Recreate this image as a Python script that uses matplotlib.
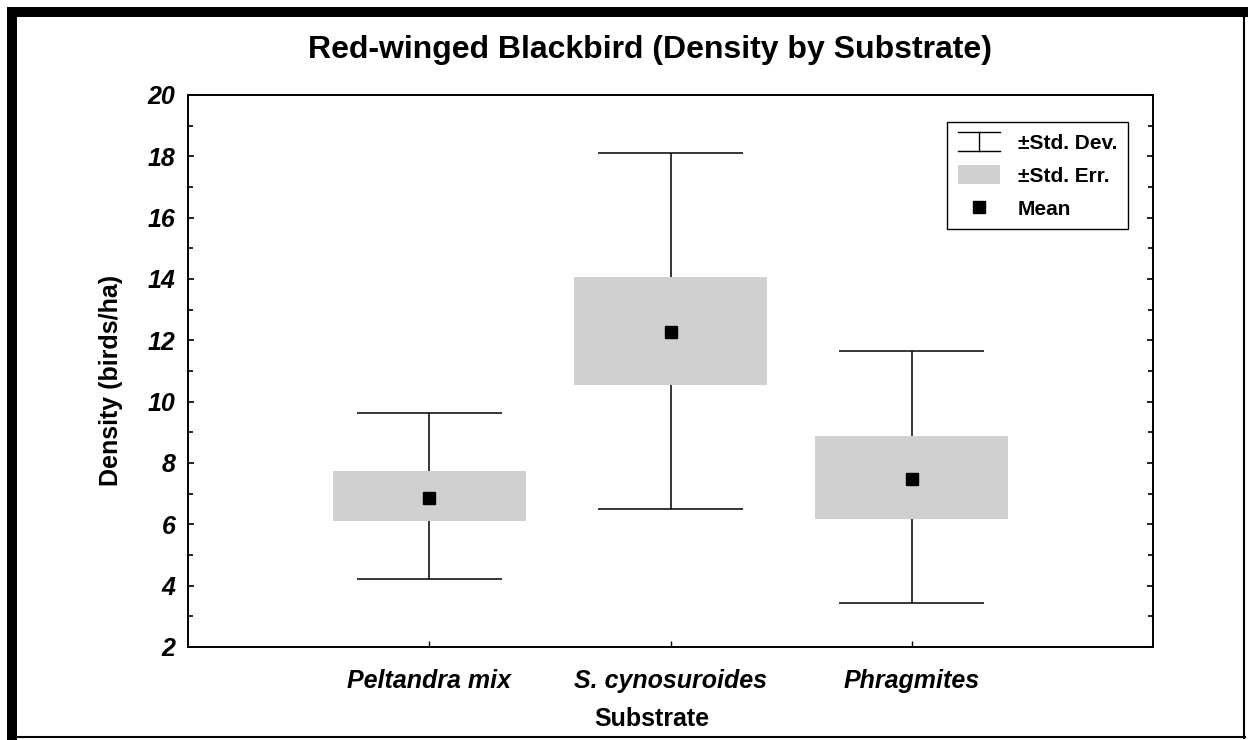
import numpy as np
import matplotlib
matplotlib.use("Agg")
import matplotlib.pyplot as plt
from matplotlib.patches import Rectangle
from matplotlib.lines import Line2D
from matplotlib.legend_handler import HandlerBase

# values
substrates = ["Peltandra mix", "S. cynosuroides", "Phragmites"]
means = np.array([6.87, 12.26, 7.47])
se_low = np.array([6.11, 10.54, 6.17])
se_high = np.array([7.74, 14.07, 8.88])
sd_low = np.array([4.22, 6.50, 3.42])
sd_high = np.array([9.63, 18.12, 11.66])
y_ticks = np.arange(2, 21, 2)

W, H = 1248, 740
BOX_GRAY = "#d0d0d0"


def fx(px):
    return px / W


def fy(py):
    return 1 - py / H


class IBeamHandler(HandlerBase):
    """Legend glyph for the std. dev. whiskers (an I-beam)."""

    def create_artists(self, legend, orig_handle, xdescent, ydescent,
                       width, height, fontsize, trans):
        x0 = -xdescent
        x1 = x0 + width
        xm = (x0 + x1) / 2
        y0 = -ydescent
        y1 = y0 + height
        parts = [Line2D([x0, x1], [y1, y1]),
                 Line2D([xm, xm], [y0, y1]),
                 Line2D([x0, x1], [y0, y0])]
        for p in parts:
            p.set_color("k")
            p.set_linewidth(1.0)
            p.set_transform(trans)
        return parts


plt.rcParams["font.family"] = ["Liberation Sans", "DejaVu Sans"]

fig = plt.figure(figsize=(W / 100, H / 100), dpi=100)
ax = fig.add_axes([fx(188), fy(647), (1153 - 188) / W, (647 - 95) / H])

x = np.arange(1, len(substrates) + 1)

# whiskers (std. dev.)
ax.vlines(x, sd_low, sd_high, color="k", lw=1.1, zorder=2)
ax.hlines(sd_low, x - 0.3, x + 0.3, color="k", lw=1.1, zorder=2)
ax.hlines(sd_high, x - 0.3, x + 0.3, color="k", lw=1.1, zorder=2)

# boxes (std. err.)
ax.bar(x, se_high - se_low, bottom=se_low, width=0.8,
       color=BOX_GRAY, edgecolor="none", zorder=3)

# means
ax.plot(x, means, linestyle="none", marker="s", color="k",
        markersize=9, zorder=4)

ax.set_xlim(0, 4)
ax.set_ylim(2, 20)
ax.set_yticks(y_ticks)
ax.set_yticks(np.arange(3, 20, 2), minor=True)
ax.set_xticks(x)
ax.set_xticklabels(substrates)

for s in ax.spines.values():
    s.set_linewidth(1.4)

ax.tick_params(axis="y", which="both", direction="in", right=True,
               width=1.2, labelsize=18, pad=9)
ax.tick_params(axis="y", which="major", length=4)
ax.tick_params(axis="y", which="minor", length=3.5)
ax.tick_params(axis="x", direction="in", length=4, width=1.0,
               labelsize=18, pad=16, top=False)
for lab in ax.get_xticklabels() + ax.get_yticklabels():
    lab.set_fontweight("bold")
    lab.set_fontstyle("italic")

# legend
sd_handle = Line2D([], [], color="k")
se_handle = Rectangle((0, 0), 1, 1, facecolor=BOX_GRAY, edgecolor="none")
mean_handle = Line2D([], [], marker="s", color="k", linestyle="none",
                     markersize=8.5)
leg = ax.legend([sd_handle, se_handle, mean_handle],
                ["±Std. Dev.", "±Std. Err.", "Mean"],
                loc="upper right", bbox_to_anchor=(0.974, 0.951),
                borderaxespad=0, fancybox=False, edgecolor="k",
                framealpha=1, handlelength=2.05, handleheight=1.0,
                handletextpad=0.85, borderpad=0.5, labelspacing=0.6,
                prop={"weight": "bold", "size": 15},
                handler_map={sd_handle: IBeamHandler()})
leg.get_frame().set_linewidth(1.0)

# titles
fig.text(fx(650), fy(58), "Red-winged Blackbird (Density by Substrate)",
         ha="center", va="baseline", fontsize=23, fontweight="bold")
fig.text(fx(652), fy(726), "Substrate", ha="center", va="baseline",
         fontsize=18, fontweight="bold")
fig.text(fx(118), fy(380), "Density (birds/ha)", rotation=90,
         rotation_mode="anchor", ha="center", va="baseline",
         fontsize=18, fontweight="bold")

# outer frame: heavy left/top, thin right/bottom
fig.add_artist(Rectangle((fx(7), 0), fx(17) - fx(7), fy(7),
                         transform=fig.transFigure, color="k", lw=0))
fig.add_artist(Rectangle((fx(7), fy(17)), 1 - fx(7), fy(7) - fy(17),
                         transform=fig.transFigure, color="k", lw=0))
fig.add_artist(Line2D([fx(1244), fx(1244)], [fy(17), fy(738)],
                      transform=fig.transFigure, color="k", lw=1.5))
fig.add_artist(Line2D([fx(17), fx(1244.7)], [fy(737), fy(737)],
                      transform=fig.transFigure, color="k", lw=1.5))

fig.savefig("out.png", dpi=100)
